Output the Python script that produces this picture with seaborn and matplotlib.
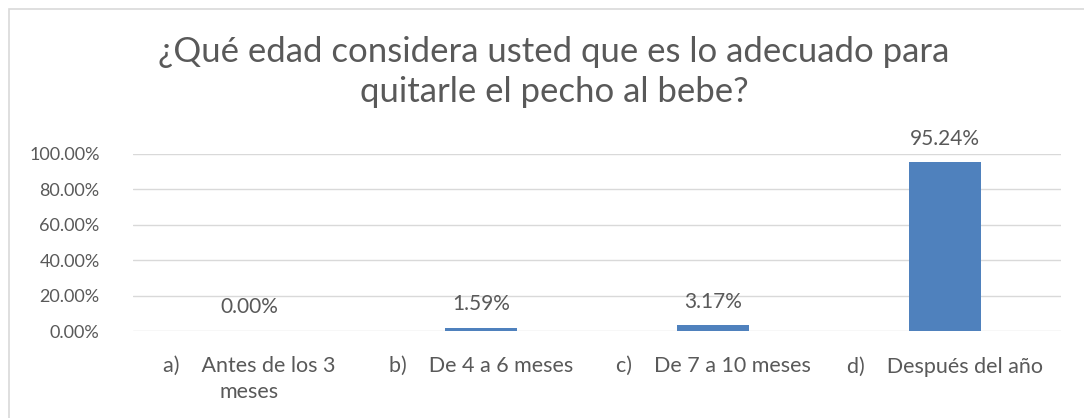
import matplotlib
matplotlib.use("Agg")
import matplotlib.pyplot as plt
import seaborn as sns
import pandas as pd
from matplotlib.patches import Rectangle

title = "¿Qué edad considera usted que es lo adecuado para\nquitarle el pecho al bebe?"
categories = ["a)    Antes de los 3\nmeses", "b)    De 4 a 6 meses",
              "c)    De 7 a 10 meses", "d)    Después del año"]
values = [0.0, 1.59, 3.17, 95.24]
y_ticks = [0, 20, 40, 60, 80, 100]

df = pd.DataFrame({"cat": categories, "val": values})

sns.set_theme(style="white")
plt.rcParams["font.family"] = ["Lato", "DejaVu Sans"]
text_col = "#595959"

fig = plt.figure(figsize=(10.84, 4.18), dpi=100)
ax = fig.add_axes([133 / 1084, 1 - 331 / 418, (1061 - 133) / 1084, 177 / 418])

sns.barplot(data=df, x="cat", y="val", color="#4f81bd", width=0.31,
            saturation=1, ax=ax, linewidth=0)

ax.set_ylim(0, 100)
ax.set_yticks(y_ticks)
ax.set_yticklabels([f"{t:.2f}%" for t in y_ticks], color=text_col, fontsize=13)
ax.set_xlim(-0.5, len(categories) - 0.5)
ax.yaxis.grid(True, color="#d9d9d9", linewidth=1)
ax.set_axisbelow(True)
for s in ax.spines.values():
    s.set_visible(False)
ax.tick_params(axis="both", length=0)
ax.tick_params(axis="y", pad=24)
ax.tick_params(axis="x", pad=18)
ax.set_xticks(range(len(categories)))
ax.set_xticklabels(categories, color=text_col, fontsize=15.5, linespacing=1.35, va="top")
ax.set_xlabel("")
ax.set_ylabel("")

for i, v in enumerate(values):
    ax.annotate(f"{v:.2f}%", (i, v), xytext=(0, 10), textcoords="offset points",
                ha="center", va="bottom", color=text_col, fontsize=15)

fig.text(554 / 1084, 1 - 72 / 418, title, ha="center", va="center",
         fontsize=25, color=text_col, linespacing=1.32)

fig.patches.append(Rectangle((9 / 1084, -0.1), 1.2, 1 - 9.5 / 418 + 0.1,
                             transform=fig.transFigure, fill=False,
                             edgecolor="#d9d9d9", linewidth=1.2))

fig.savefig("out.png", dpi=100)
